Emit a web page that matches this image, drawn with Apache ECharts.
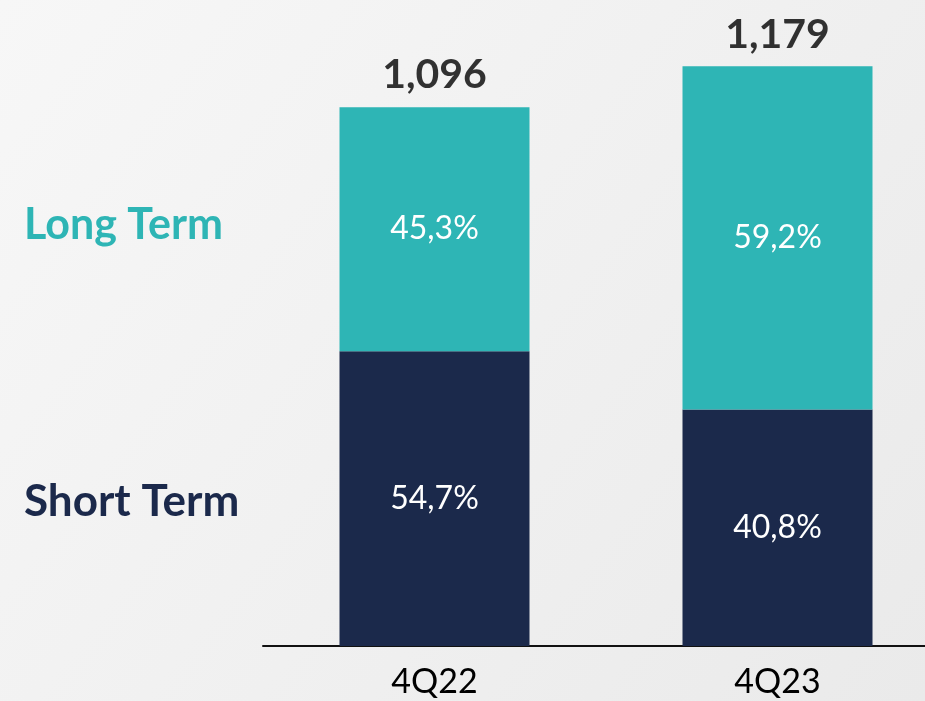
<!DOCTYPE html>
<html>
<head>
<meta charset="utf-8">
<title>Short / Long Term</title>
<script src="https://cdn.jsdelivr.net/npm/echarts@6/dist/echarts.min.js"></script>
<style>
  html, body { margin: 0; padding: 0; }
  #chart { width: 925px; height: 701px; }
</style>
</head>
<body>
<div id="chart"></div>
<script>
// data
var quarters = ['4Q22', '4Q23'];
var totals = [1096, 1179];
var shortPct = [54.7, 40.8];
var longPct = [45.3, 59.2];

var teal = '#2EB5B5';
var navy = '#1B294B';
var font = 'Lato';

function pctText(v) {
  return v.toFixed(1).replace('.', ',') + '%';
}
function totalText(v) {
  return v.toLocaleString('en-US');
}

// segment heights from the total and its share
var shortVals = totals.map(function (t, i) { return t * shortPct[i] / 100; });
var longVals = totals.map(function (t, i) { return t * longPct[i] / 100; });

var myChart = echarts.init(document.getElementById('chart'));

var option = {
  backgroundColor: {
    type: 'linear', x: 0, y: 0, x2: 1, y2: 1,
    colorStops: [
      { offset: 0, color: '#f7f7f7' },
      { offset: 1, color: '#eaeaea' }
    ]
  },
  animation: false,
  // grid runs past the right edge, like the original slide
  grid: { left: 263, top: 56, bottom: 55, width: 686, outerBoundsMode: 'none' },
  xAxis: {
    type: 'category',
    data: quarters,
    axisLine: { lineStyle: { color: '#111', width: 2 } },
    axisTick: { show: false },
    axisLabel: { color: '#000', fontFamily: font, fontSize: 34, margin: 19 }
  },
  yAxis: {
    type: 'value',
    min: 0,
    max: 1200,
    show: false,
    splitLine: { show: false }
  },
  graphic: [
    {
      type: 'text', left: 24, top: 225 - 21,
      style: { text: 'Long Term', fill: teal, font: 'bold 43px Lato' }
    },
    {
      type: 'text', left: 24, top: 501 - 21,
      style: { text: 'Short Term', fill: navy, font: 'bold 44px Lato' }
    }
  ],
  series: [
    {
      name: 'Short Term',
      type: 'bar',
      stack: 'term',
      barWidth: 190,
      itemStyle: { color: navy },
      label: {
        show: true, position: 'inside', color: '#fff',
        fontFamily: font, fontSize: 32,
        formatter: function (p) { return pctText(shortPct[p.dataIndex]); }
      },
      data: shortVals
    },
    {
      name: 'Long Term',
      type: 'bar',
      stack: 'term',
      barWidth: 190,
      itemStyle: { color: teal },
      label: {
        show: true, position: 'inside', color: '#fff',
        fontFamily: font, fontSize: 32,
        formatter: function (p) { return pctText(longPct[p.dataIndex]); }
      },
      data: longVals
    },
    {
      // totals above the bars
      name: 'Total',
      type: 'scatter',
      symbolSize: 1,
      itemStyle: { color: 'rgba(0,0,0,0)' },
      label: {
        show: true, position: 'top', distance: 11, color: '#000',
        fontFamily: font, fontSize: 41, fontWeight: 'bold',
        formatter: function (p) { return totalText(totals[p.dataIndex]); }
      },
      data: totals
    }
  ]
};

myChart.setOption(option);
</script>
</body>
</html>
